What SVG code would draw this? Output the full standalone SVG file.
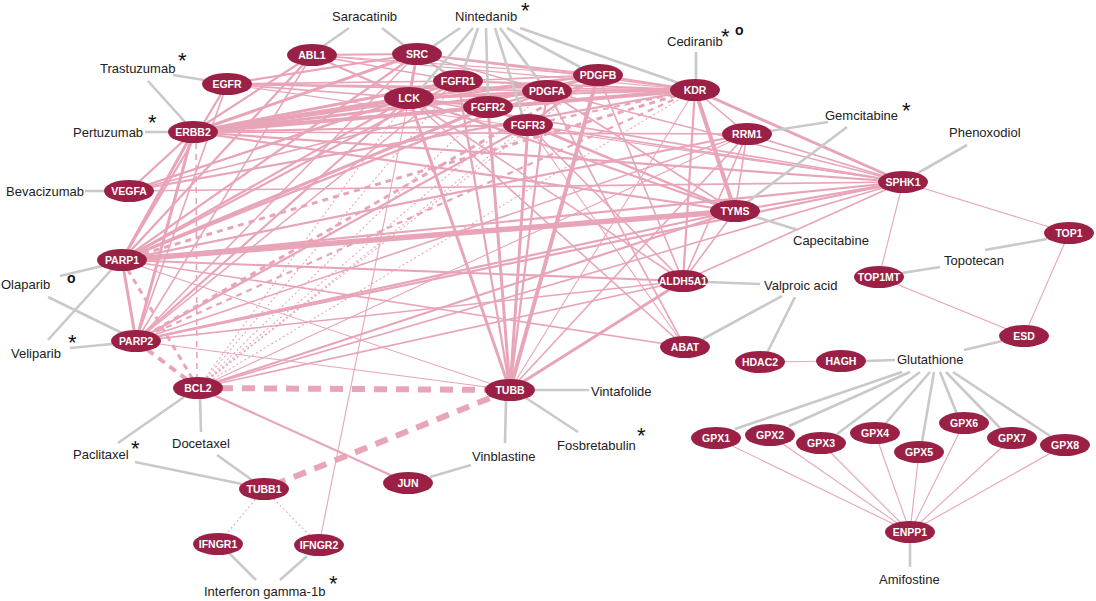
<svg xmlns="http://www.w3.org/2000/svg" width="1096" height="601" viewBox="0 0 1096 601">
<style>
.p{stroke:#e8a5b8;fill:none;stroke-linecap:butt}
.g{stroke:#c9c9c9;stroke-width:2.6;fill:none}
.w1{stroke-width:1.1}.w15{stroke-width:1.6}.w2{stroke-width:2.2}.w3{stroke-width:3}.w4{stroke-width:4}.w5{stroke-width:5.5}
.da{stroke-dasharray:6 5}.dt{stroke-dasharray:2 2.5}
.bd{stroke-width:6;stroke-dasharray:13 9}
.n ellipse{fill:#9a2145}
.n text{fill:#fff;font-family:"Liberation Sans",Arial,sans-serif;font-weight:bold;font-size:10.5px;text-anchor:middle}
.t{font-family:"Liberation Sans",Arial,sans-serif;font-size:13px;fill:#222}
.s{font-family:"Liberation Sans",Arial,sans-serif;font-size:22px;fill:#111}
.o{font-family:"Liberation Sans",Arial,sans-serif;font-size:14px;font-weight:bold;fill:#111}
</style>
<rect width="1096" height="601" fill="#fff"/>
<g id="connectors">
<g class="p">
<line class="w3" x1="193" y1="132" x2="417" y2="54"/>
<line class="w4" x1="193" y1="132" x2="409" y2="98"/>
<line class="w3" x1="193" y1="132" x2="458" y2="81"/>
<line class="w3" x1="193" y1="132" x2="488" y2="107"/>
<line class="w3" x1="193" y1="132" x2="547" y2="91"/>
<line class="w2" x1="193" y1="132" x2="598" y2="75"/>
<line class="w4" x1="193" y1="132" x2="695" y2="90"/>
<line class="w2" x1="193" y1="132" x2="528" y2="125"/>
<line class="w2" x1="193" y1="132" x2="903" y2="182"/>
<line class="w2" x1="193" y1="132" x2="735" y2="211"/>
<line class="w3" x1="193" y1="132" x2="122" y2="260"/>
<line class="w3" x1="193" y1="132" x2="136" y2="341"/>
<line class="w2" x1="193" y1="132" x2="129" y2="191"/>
<line class="w2" x1="193" y1="132" x2="312" y2="55"/>
<line class="w15" x1="193" y1="132" x2="747" y2="134"/>
<line class="w15 da" x1="196" y1="132" x2="197" y2="388"/>
<line class="w2" x1="227" y1="84" x2="417" y2="54"/>
<line class="w15" x1="227" y1="84" x2="409" y2="98"/>
<line class="w15" x1="227" y1="84" x2="458" y2="81"/>
<line class="w15" x1="227" y1="84" x2="547" y2="91"/>
<line class="w15" x1="227" y1="84" x2="695" y2="90"/>
<line class="w2" x1="227" y1="84" x2="122" y2="260"/>
<line class="w15" x1="227" y1="84" x2="136" y2="341"/>
<line class="w1" x1="227" y1="84" x2="903" y2="182"/>
<line class="w2" x1="129" y1="191" x2="695" y2="90"/>
<line class="w2" x1="129" y1="191" x2="409" y2="98"/>
<line class="w15" x1="129" y1="191" x2="458" y2="81"/>
<line class="w15" x1="129" y1="191" x2="598" y2="75"/>
<line class="w15" x1="129" y1="191" x2="903" y2="182"/>
<line class="w2" x1="122" y1="260" x2="417" y2="54"/>
<line class="w2" x1="122" y1="260" x2="409" y2="98"/>
<line class="w2" x1="122" y1="260" x2="458" y2="81"/>
<line class="w3" x1="122" y1="260" x2="488" y2="107"/>
<line class="w2" x1="122" y1="260" x2="547" y2="91"/>
<line class="w3 da" x1="122" y1="260" x2="695" y2="90"/>
<line class="w5" x1="122" y1="260" x2="735" y2="211"/>
<line class="w2" x1="122" y1="260" x2="903" y2="182"/>
<line class="w2" x1="122" y1="260" x2="683" y2="281"/>
<line class="w15" x1="122" y1="260" x2="685" y2="347"/>
<line class="w2" x1="122" y1="260" x2="747" y2="134"/>
<line class="w3" x1="122" y1="260" x2="136" y2="341"/>
<line class="w3 da" x1="122" y1="260" x2="198" y2="388"/>
<line class="w1" x1="122" y1="260" x2="510" y2="390"/>
<line class="w2" x1="122" y1="260" x2="312" y2="55"/>
<line class="w2" x1="136" y1="341" x2="409" y2="98"/>
<line class="w15" x1="136" y1="341" x2="458" y2="81"/>
<line class="w2" x1="136" y1="341" x2="528" y2="125"/>
<line class="w3 da" x1="136" y1="341" x2="598" y2="75"/>
<line class="w2 da" x1="136" y1="341" x2="695" y2="90"/>
<line class="w2" x1="136" y1="341" x2="735" y2="211"/>
<line class="w2" x1="136" y1="341" x2="903" y2="182"/>
<line class="w15" x1="136" y1="341" x2="683" y2="281"/>
<line class="w1" x1="136" y1="341" x2="510" y2="390"/>
<line class="w4" x1="136" y1="341" x2="198" y2="388" stroke-dasharray="8 6"/>
<line class="w15" x1="136" y1="341" x2="417" y2="54"/>
<line class="w15" x1="136" y1="341" x2="747" y2="134"/>
<line class="w15" x1="136" y1="341" x2="312" y2="55"/>
<line class="bd" x1="198" y1="388" x2="510" y2="390"/>
<line class="w2" x1="198" y1="388" x2="408" y2="483"/>
<line class="w1 dt" x1="198" y1="388" x2="458" y2="81"/>
<line class="w1 dt" x1="198" y1="388" x2="488" y2="107"/>
<line class="w1 dt" x1="198" y1="388" x2="528" y2="125"/>
<line class="w1 dt" x1="198" y1="388" x2="547" y2="91"/>
<line class="w1 dt" x1="198" y1="388" x2="598" y2="75"/>
<line class="w1 dt" x1="198" y1="388" x2="695" y2="90"/>
<line class="w1 dt" x1="198" y1="388" x2="409" y2="98"/>
<line class="w2" x1="198" y1="388" x2="735" y2="211"/>
<line class="w15" x1="198" y1="388" x2="903" y2="182"/>
<line class="w15" x1="198" y1="388" x2="683" y2="281"/>
<line class="w1" x1="198" y1="388" x2="747" y2="134"/>
<line class="w3" x1="510" y1="390" x2="409" y2="98"/>
<line class="w2" x1="510" y1="390" x2="458" y2="81"/>
<line class="w3" x1="510" y1="390" x2="488" y2="107"/>
<line class="w3" x1="510" y1="390" x2="528" y2="125"/>
<line class="w2" x1="510" y1="390" x2="547" y2="91"/>
<line class="w4" x1="510" y1="390" x2="598" y2="75"/>
<line class="w1" x1="510" y1="390" x2="695" y2="90"/>
<line class="w3" x1="510" y1="390" x2="683" y2="281"/>
<line class="w15" x1="510" y1="390" x2="747" y2="134"/>
<line class="bd" x1="510" y1="390" x2="264" y2="489"/>
<line class="w2" x1="683" y1="281" x2="695" y2="90"/>
<line class="w15" x1="683" y1="281" x2="747" y2="134"/>
<line class="w15" x1="683" y1="281" x2="735" y2="211"/>
<line class="w15" x1="683" y1="281" x2="598" y2="75"/>
<line class="w15" x1="683" y1="281" x2="528" y2="125"/>
<line class="w15" x1="683" y1="281" x2="409" y2="98"/>
<line class="w15" x1="683" y1="281" x2="903" y2="182"/>
<line class="w1" x1="685" y1="347" x2="528" y2="125"/>
<line class="w15" x1="685" y1="347" x2="547" y2="91"/>
<line class="w15" x1="685" y1="347" x2="409" y2="98"/>
<line class="w4" x1="735" y1="211" x2="695" y2="90"/>
<line class="w2" x1="735" y1="211" x2="903" y2="182"/>
<line class="w15" x1="735" y1="211" x2="747" y2="134"/>
<line class="w2" x1="735" y1="211" x2="409" y2="98"/>
<line class="w2" x1="735" y1="211" x2="488" y2="107"/>
<line class="w15" x1="735" y1="211" x2="528" y2="125"/>
<line class="w15" x1="735" y1="211" x2="547" y2="91"/>
<line class="w3" x1="903" y1="182" x2="695" y2="90"/>
<line class="w15" x1="903" y1="182" x2="747" y2="134"/>
<line class="w15" x1="903" y1="182" x2="409" y2="98"/>
<line class="w15" x1="903" y1="182" x2="528" y2="125"/>
<line class="w15" x1="903" y1="182" x2="547" y2="91"/>
<line class="w2" x1="695" y1="90" x2="409" y2="98"/>
<line class="w2" x1="695" y1="90" x2="458" y2="81"/>
<line class="w2" x1="695" y1="90" x2="547" y2="91"/>
<line class="w2" x1="695" y1="90" x2="598" y2="75"/>
<line class="w15" x1="695" y1="90" x2="417" y2="54"/>
<line class="w15" x1="695" y1="90" x2="747" y2="134"/>
<line class="w2 da" x1="695" y1="90" x2="528" y2="125"/>
<line class="w3" x1="417" y1="54" x2="409" y2="98"/>
<line class="w2" x1="417" y1="54" x2="458" y2="81"/>
<line class="w2" x1="417" y1="54" x2="598" y2="75"/>
<line class="w15" x1="417" y1="54" x2="547" y2="91"/>
<line class="w2" x1="409" y1="98" x2="458" y2="81"/>
<line class="w2" x1="409" y1="98" x2="488" y2="107"/>
<line class="w2" x1="409" y1="98" x2="547" y2="91"/>
<line class="w2" x1="409" y1="98" x2="598" y2="75"/>
<line class="w2" x1="458" y1="81" x2="488" y2="107"/>
<line class="w15" x1="458" y1="81" x2="598" y2="75"/>
<line class="w2" x1="488" y1="107" x2="547" y2="91"/>
<line class="w2" x1="488" y1="107" x2="528" y2="125"/>
<line class="w2" x1="528" y1="125" x2="598" y2="75"/>
<line class="w2" x1="547" y1="91" x2="598" y2="75"/>
<line class="w2" x1="312" y1="55" x2="417" y2="54"/>
<line class="w15" x1="312" y1="55" x2="458" y2="81"/>
<line class="w2" x1="312" y1="55" x2="409" y2="98"/>
<line class="w1" x1="312" y1="55" x2="598" y2="75"/>
<line class="w1" x1="312" y1="55" x2="695" y2="90"/>
<line class="w1" x1="319" y1="545" x2="409" y2="98"/>
<line class="w1 dt" x1="264" y1="489" x2="218" y2="544"/>
<line class="w1 dt" x1="264" y1="489" x2="319" y2="545"/>
<line class="w1" x1="760" y1="362" x2="841" y2="361"/>
<line class="w1" x1="903" y1="182" x2="1069" y2="233"/>
<line class="w1" x1="903" y1="182" x2="879" y2="277"/>
<line class="w1" x1="1069" y1="233" x2="1024" y2="336"/>
<line class="w1" x1="879" y1="277" x2="1024" y2="336"/>
<line class="w1" x1="716" y1="438" x2="910" y2="532"/>
<line class="w1" x1="770" y1="435" x2="910" y2="532"/>
<line class="w1" x1="821" y1="443" x2="910" y2="532"/>
<line class="w1" x1="875" y1="433" x2="910" y2="532"/>
<line class="w1" x1="919" y1="452" x2="910" y2="532"/>
<line class="w1" x1="964" y1="423" x2="910" y2="532"/>
<line class="w1" x1="1012" y1="438" x2="910" y2="532"/>
<line class="w1" x1="1065" y1="445" x2="910" y2="532"/>
</g>
<g class="g">
<line x1="349" y1="28" x2="322" y2="47"/>
<line x1="382" y1="28" x2="405" y2="46"/>
<line x1="460" y1="28" x2="432" y2="47"/>
<line x1="473" y1="28" x2="420" y2="90"/>
<line x1="478" y1="28" x2="463" y2="72"/>
<line x1="486" y1="28" x2="488" y2="98"/>
<line x1="495" y1="28" x2="523" y2="117"/>
<line x1="500" y1="28" x2="540" y2="82"/>
<line x1="507" y1="28" x2="580" y2="67"/>
<line x1="520" y1="28" x2="679" y2="83"/>
<line x1="696" y1="52" x2="696" y2="82"/>
<line x1="173" y1="75" x2="204" y2="80"/>
<line x1="148" y1="81" x2="185" y2="122"/>
<line x1="145" y1="132" x2="170" y2="132"/>
<line x1="85" y1="191" x2="106" y2="191"/>
<line x1="60" y1="276" x2="102" y2="266"/>
<line x1="48" y1="297" x2="122" y2="333"/>
<line x1="48" y1="340" x2="113" y2="268"/>
<line x1="70" y1="348" x2="112" y2="344"/>
<line x1="828" y1="122" x2="770" y2="131"/>
<line x1="847" y1="127" x2="745" y2="204"/>
<line x1="967" y1="145" x2="918" y2="173"/>
<line x1="756" y1="217" x2="798" y2="230"/>
<line x1="985" y1="250" x2="1047" y2="239"/>
<line x1="940" y1="267" x2="902" y2="273"/>
<line x1="706" y1="282" x2="760" y2="284"/>
<line x1="782" y1="296" x2="703" y2="339"/>
<line x1="795" y1="297" x2="767" y2="353"/>
<line x1="864" y1="361" x2="895" y2="360"/>
<line x1="964" y1="350" x2="1002" y2="341"/>
<line x1="902" y1="372" x2="735" y2="429"/>
<line x1="910" y1="372" x2="789" y2="426"/>
<line x1="920" y1="372" x2="837" y2="434"/>
<line x1="930" y1="372" x2="885" y2="424"/>
<line x1="934" y1="372" x2="922" y2="442"/>
<line x1="940" y1="372" x2="957" y2="414"/>
<line x1="946" y1="372" x2="1002" y2="430"/>
<line x1="953" y1="372" x2="1050" y2="436"/>
<line x1="910" y1="543" x2="910" y2="567"/>
<line x1="535" y1="390" x2="589" y2="390"/>
<line x1="526" y1="398" x2="578" y2="432"/>
<line x1="506" y1="400" x2="505" y2="443"/>
<line x1="430" y1="477" x2="471" y2="465"/>
<line x1="118" y1="443" x2="184" y2="397"/>
<line x1="135" y1="462" x2="242" y2="484"/>
<line x1="200" y1="398" x2="201" y2="432"/>
<line x1="217" y1="455" x2="252" y2="480"/>
<line x1="229" y1="553" x2="256" y2="580"/>
<line x1="280" y1="580" x2="307" y2="556"/>
</g>
</g>
<g id="n-ABL1" class="n"><ellipse cx="312" cy="55" rx="25" ry="11"/><text x="312" y="58.8">ABL1</text></g>
<g id="n-SRC" class="n"><ellipse cx="417" cy="54" rx="25" ry="11"/><text x="417" y="57.8">SRC</text></g>
<g id="n-EGFR" class="n"><ellipse cx="227" cy="84" rx="25" ry="11"/><text x="227" y="87.8">EGFR</text></g>
<g id="n-ERBB2" class="n"><ellipse cx="193" cy="132" rx="25" ry="11"/><text x="193" y="135.8">ERBB2</text></g>
<g id="n-VEGFA" class="n"><ellipse cx="129" cy="191" rx="25" ry="11"/><text x="129" y="194.8">VEGFA</text></g>
<g id="n-PARP1" class="n"><ellipse cx="122" cy="260" rx="25" ry="11"/><text x="122" y="263.8">PARP1</text></g>
<g id="n-PARP2" class="n"><ellipse cx="136" cy="341" rx="25" ry="11"/><text x="136" y="344.8">PARP2</text></g>
<g id="n-BCL2" class="n"><ellipse cx="198" cy="388" rx="25" ry="11"/><text x="198" y="391.8">BCL2</text></g>
<g id="n-LCK" class="n"><ellipse cx="409" cy="98" rx="25" ry="11"/><text x="409" y="101.8">LCK</text></g>
<g id="n-FGFR1" class="n"><ellipse cx="458" cy="81" rx="25" ry="11"/><text x="458" y="84.8">FGFR1</text></g>
<g id="n-FGFR2" class="n"><ellipse cx="488" cy="107" rx="25" ry="11"/><text x="488" y="110.8">FGFR2</text></g>
<g id="n-FGFR3" class="n"><ellipse cx="528" cy="125" rx="25" ry="11"/><text x="528" y="128.8">FGFR3</text></g>
<g id="n-PDGFA" class="n"><ellipse cx="547" cy="91" rx="25" ry="11"/><text x="547" y="94.8">PDGFA</text></g>
<g id="n-PDGFB" class="n"><ellipse cx="598" cy="75" rx="25" ry="11"/><text x="598" y="78.8">PDGFB</text></g>
<g id="n-KDR" class="n"><ellipse cx="695" cy="90" rx="25" ry="11"/><text x="695" y="93.8">KDR</text></g>
<g id="n-RRM1" class="n"><ellipse cx="747" cy="134" rx="25" ry="11"/><text x="747" y="137.8">RRM1</text></g>
<g id="n-SPHK1" class="n"><ellipse cx="903" cy="182" rx="25" ry="11"/><text x="903" y="185.8">SPHK1</text></g>
<g id="n-TYMS" class="n"><ellipse cx="735" cy="211" rx="25" ry="11"/><text x="735" y="214.8">TYMS</text></g>
<g id="n-ALDH5A1" class="n"><ellipse cx="683" cy="281" rx="25" ry="11"/><text x="683" y="284.8">ALDH5A1</text></g>
<g id="n-ABAT" class="n"><ellipse cx="685" cy="347" rx="25" ry="11"/><text x="685" y="350.8">ABAT</text></g>
<g id="n-TUBB" class="n"><ellipse cx="510" cy="390" rx="25" ry="11"/><text x="510" y="393.8">TUBB</text></g>
<g id="n-JUN" class="n"><ellipse cx="408" cy="483" rx="25" ry="11"/><text x="408" y="486.8">JUN</text></g>
<g id="n-TUBB1" class="n"><ellipse cx="264" cy="489" rx="25" ry="11"/><text x="264" y="492.8">TUBB1</text></g>
<g id="n-IFNGR1" class="n"><ellipse cx="218" cy="544" rx="25" ry="11"/><text x="218" y="547.8">IFNGR1</text></g>
<g id="n-IFNGR2" class="n"><ellipse cx="319" cy="545" rx="25" ry="11"/><text x="319" y="548.8">IFNGR2</text></g>
<g id="n-TOP1" class="n"><ellipse cx="1069" cy="233" rx="25" ry="11"/><text x="1069" y="236.8">TOP1</text></g>
<g id="n-TOP1MT" class="n"><ellipse cx="879" cy="277" rx="25" ry="11"/><text x="879" y="280.8">TOP1MT</text></g>
<g id="n-ESD" class="n"><ellipse cx="1024" cy="336" rx="25" ry="11"/><text x="1024" y="339.8">ESD</text></g>
<g id="n-HDAC2" class="n"><ellipse cx="760" cy="362" rx="25" ry="11"/><text x="760" y="365.8">HDAC2</text></g>
<g id="n-HAGH" class="n"><ellipse cx="841" cy="361" rx="25" ry="11"/><text x="841" y="364.8">HAGH</text></g>
<g id="n-GPX1" class="n"><ellipse cx="716" cy="438" rx="25" ry="11"/><text x="716" y="441.8">GPX1</text></g>
<g id="n-GPX2" class="n"><ellipse cx="770" cy="435" rx="25" ry="11"/><text x="770" y="438.8">GPX2</text></g>
<g id="n-GPX3" class="n"><ellipse cx="821" cy="443" rx="25" ry="11"/><text x="821" y="446.8">GPX3</text></g>
<g id="n-GPX4" class="n"><ellipse cx="875" cy="433" rx="25" ry="11"/><text x="875" y="436.8">GPX4</text></g>
<g id="n-GPX5" class="n"><ellipse cx="919" cy="452" rx="25" ry="11"/><text x="919" y="455.8">GPX5</text></g>
<g id="n-GPX6" class="n"><ellipse cx="964" cy="423" rx="25" ry="11"/><text x="964" y="426.8">GPX6</text></g>
<g id="n-GPX7" class="n"><ellipse cx="1012" cy="438" rx="25" ry="11"/><text x="1012" y="441.8">GPX7</text></g>
<g id="n-GPX8" class="n"><ellipse cx="1065" cy="445" rx="25" ry="11"/><text x="1065" y="448.8">GPX8</text></g>
<g id="n-ENPP1" class="n"><ellipse cx="910" cy="532" rx="25" ry="11"/><text x="910" y="535.8">ENPP1</text></g>
<g id="drugs">
<text class="t" x="332" y="21">Saracatinib</text>
<text class="t" x="455" y="21">Nintedanib</text>
<text class="s" x="521" y="18">*</text>
<text class="t" x="667" y="46">Cediranib</text>
<text class="s" x="721" y="44">*</text>
<text class="o" x="735" y="35">o</text>
<text class="t" x="100" y="73">Trastuzumab</text>
<text class="s" x="178" y="68">*</text>
<text class="t" x="73" y="137">Pertuzumab</text>
<text class="s" x="148" y="130">*</text>
<text class="t" x="6" y="196">Bevacizumab</text>
<text class="t" x="825" y="120">Gemcitabine</text>
<text class="s" x="902" y="118">*</text>
<text class="t" x="949" y="137">Phenoxodiol</text>
<text class="t" x="793" y="245">Capecitabine</text>
<text class="t" x="944" y="265">Topotecan</text>
<text class="t" x="764" y="290">Valproic acid</text>
<text class="t" x="897" y="364">Glutathione</text>
<text class="t" x="1" y="289">Olaparib</text>
<text class="o" x="67" y="283">o</text>
<text class="t" x="11" y="358">Veliparib</text>
<text class="s" x="68" y="350">*</text>
<text class="t" x="591" y="396">Vintafolide</text>
<text class="t" x="557" y="450">Fosbretabulin</text>
<text class="s" x="637" y="443">*</text>
<text class="t" x="472" y="461">Vinblastine</text>
<text class="t" x="73" y="459">Paclitaxel</text>
<text class="s" x="131" y="456">*</text>
<text class="t" x="172" y="448">Docetaxel</text>
<text class="t" x="204" y="596">Interferon gamma-1b</text>
<text class="s" x="329" y="591">*</text>
<text class="t" x="879" y="584">Amifostine</text>
</g>
</svg>
